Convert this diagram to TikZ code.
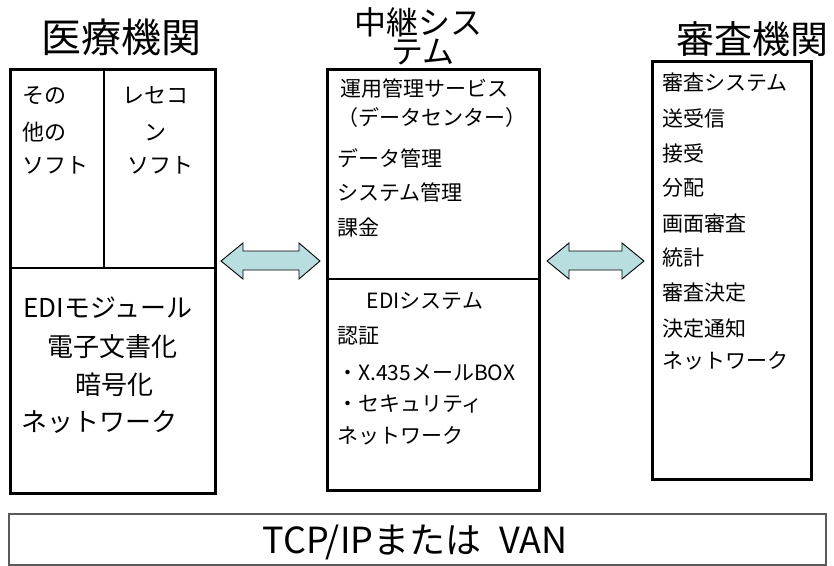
\documentclass[tikz,border=0pt]{standalone}
\usepackage{fontspec}
\setmainfont{Noto Sans CJK JP}
\definecolor{arrowfill}{RGB}{184,222,224}
\definecolor{netgray}{RGB}{90,90,90}
\tikzset{
  frame/.style={draw=black, line width=2.5pt, rectangle, inner sep=0pt, anchor=north west},
  split/.style={draw=black, line width=2pt},
  arr/.style={draw=black, line width=0.9pt, fill=arrowfill, line join=miter},
  ttl/.style={inner sep=0pt, anchor=base, font=\fontsize{#1}{#1}\selectfont},
  lab/.style={inner sep=0pt, anchor=base west, font=\fontsize{#1}{#1}\selectfont},
  clab/.style={inner sep=0pt, anchor=base, font=\fontsize{#1}{#1}\selectfont},
}
\begin{document}
\begin{tikzpicture}[x=1pt,y=-1pt]
\useasboundingbox (0,0) rectangle (834,565);
% boxes
\node[frame, minimum width=205pt, minimum height=424pt] (med) at (9,68) {};
\node[frame, minimum width=212pt, minimum height=421pt] (relay) at (326,68) {};
\node[frame, minimum width=159pt, minimum height=418pt] (rev) at (651,60) {};
\node[draw=netgray, line width=1.5pt, rectangle, inner sep=0pt, anchor=north west,
      minimum width=817pt, minimum height=51pt] (net) at (8,513) {};
% splits
\coordinate (medL) at (9,268);
\coordinate (medR) at (214,268);
\coordinate (medT) at (104,68);
\coordinate (medM) at (104,268);
\draw[split] (medL) -- (medR);
\draw[split] (medT) -- (medM);
\coordinate (relL) at (326,279);
\coordinate (relR) at (538,279);
\draw[split] (relL) -- (relR);
% arrows
\draw[arr] (221,261) -- (243,243) -- (243,251) -- (299,251) -- (299,243) -- (320,261)
  -- (299,279) -- (299,270) -- (243,270) -- (243,279) -- cycle;
\draw[arr] (547,261) -- (569,243) -- (569,251) -- (622,251) -- (622,243) -- (644,261)
  -- (622,279) -- (622,270) -- (569,270) -- (569,279) -- cycle;
% titles
\node[ttl=40] (t1) at (121,52) {医療機関};
\node[ttl=32] (t2a) at (418,34) {中継シス};
\node[ttl=32] (t2b) at (423,63) {テム};
\node[ttl=38] (t3) at (752,53) {審査機関};
% left box top cells
\node[lab=22] (a1) at (22,103) {その};
\node[lab=22] (a2) at (22,140) {他の};
\node[lab=22] (a3) at (22,173) {ソフト};
\node[clab=22] (b1) at (155,103) {レセコ};
\node[clab=22] (b2) at (155,140) {ン};
\node[clab=22] (b3) at (160,173) {ソフト};
% left box bottom
\node[clab=26] (c1) at (108,317) {EDIモジュール};
\node[clab=26] (c2) at (112,356) {電子文書化};
\node[clab=26] (c3) at (114,394) {暗号化};
\node[clab=26] (c4) at (99,431) {ネットワーク};
% middle top
\node[lab=21] (d1) at (340,96) {運用管理サービス};
\node[lab=21] (d2) at (337,125) {（データセンター）};
\node[lab=21] (d3) at (337,166) {データ管理};
\node[lab=21] (d4) at (337,200) {システム管理};
\node[lab=21] (d5) at (337,235) {課金};
% middle bottom
\node[clab=21] (e1) at (425,308) {EDIシステム};
\node[lab=21] (e2) at (337,343) {認証};
\node[lab=21] (e3) at (337,380) {・X.435メールBOX};
\node[lab=21] (e4) at (337,411) {・セキュリティ};
\node[lab=21] (e5) at (337,443) {ネットワーク};
% right
\node[lab=21] (f1) at (662,90) {審査システム};
\node[lab=21] (f2) at (662,126) {送受信};
\node[lab=21] (f3) at (662,161) {接受};
\node[lab=21] (f4) at (662,195) {分配};
\node[lab=21] (f5) at (662,231) {画面審査};
\node[lab=21] (f6) at (662,265) {統計};
\node[lab=21] (f7) at (662,300) {審査決定};
\node[lab=21] (f8) at (662,336) {決定通知};
\node[lab=21] (f9) at (662,368) {ネットワーク};
% bottom
\node[clab=36] (g1) at (415,553) {TCP/IPまたは\hspace{18pt}VAN};
\end{tikzpicture}
\end{document}
